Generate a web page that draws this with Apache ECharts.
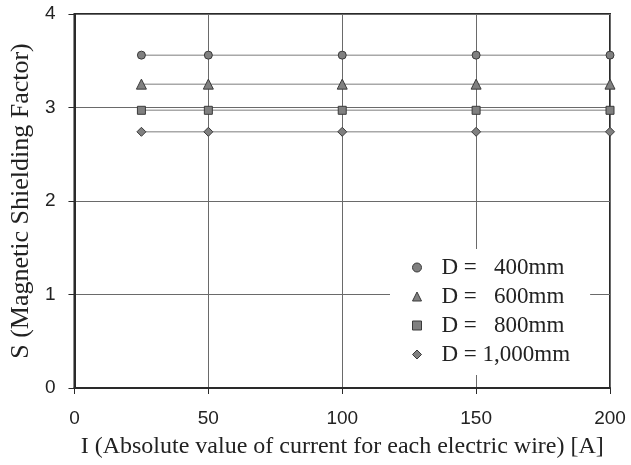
<!DOCTYPE html>
<html><head><meta charset="utf-8">
<script src="https://cdn.jsdelivr.net/npm/echarts@6/dist/echarts.min.js"></script>
<style>html,body{margin:0;padding:0;background:#fff}#c{width:631px;height:465px}</style>
</head><body><div id="c"></div>
<script>
const currents = [25, 50, 100, 150, 200];
const seriesNames = ['D =   400mm', 'D =   600mm', 'D =   800mm', 'D = 1,000mm'];
const s400 = [3.56, 3.56, 3.56, 3.56, 3.56];
const s600 = [3.25, 3.25, 3.25, 3.25, 3.25];
const s800 = [2.97, 2.97, 2.97, 2.97, 2.97];
const s1000 = [2.74, 2.74, 2.74, 2.74, 2.74];
const symbols = ['circle', 'triangle', 'rect', 'diamond'];
const symbolSizes = [8, 10, 8, 9];
const allValues = [s400, s600, s800, s1000];

const chart = echarts.init(document.getElementById('c'));
const series = allValues.map((vals, i) => ({
  name: seriesNames[i],
  type: 'line',
  data: currents.map((x, j) => [x, vals[j]]),
  symbol: symbols[i],
  symbolSize: symbolSizes[i],
  showAllSymbol: true,
  lineStyle: { color: '#a8a8a8', width: 1.5 },
  itemStyle: { color: '#808080', borderColor: '#3a3a3a', borderWidth: 1 },
  emphasis: { disabled: true },
  z: 3
}));

chart.setOption({
  animation: false,
  backgroundColor: '#fff',
  grid: { left: 73, right: 21, top: 14, bottom: 77, show: true, borderColor: '#2a2a2a', borderWidth: 2, backgroundColor: 'transparent' },
  legend: {
    left: 390, top: 249,
    orient: 'vertical',
    backgroundColor: '#ffffff',
    padding: [7, 20, 9, 22],
    itemWidth: 9, itemHeight: 9, itemGap: 6,
    data: seriesNames.map((n, i) => ({ name: n, icon: symbols[i] })),
    itemStyle: { color: '#808080', borderColor: '#3a3a3a', borderWidth: 1 },
    textStyle: { fontFamily: 'Liberation Serif', fontSize: 23, color: '#222', padding: [0, 0, 0, 15] },
    selectedMode: false
  },
  xAxis: {
    type: 'value', min: 0, max: 200, interval: 50,
    name: 'I (Absolute value of current for each electric wire) [A]',
    nameLocation: 'middle', nameGap: 47,
    nameTextStyle: { fontFamily: 'Liberation Serif', fontSize: 24, color: '#222' },
    axisLine: { show: true, lineStyle: { color: '#2a2a2a', width: 2 } },
    axisTick: { show: true, length: 6, lineStyle: { color: '#2a2a2a', width: 1 } },
    axisLabel: { fontFamily: 'Liberation Sans', fontSize: 19, color: '#222', margin: 21 },
    splitLine: { show: true, lineStyle: { color: '#6a6a6a', width: 1 } }
  },
  yAxis: {
    type: 'value', min: 0, max: 4, interval: 1,
    name: 'S (Magnetic Shielding Factor)',
    nameLocation: 'middle', nameGap: 39,
    nameTextStyle: { fontFamily: 'Liberation Serif', fontSize: 26, color: '#222' },
    axisLine: { show: true, lineStyle: { color: '#2a2a2a', width: 2 } },
    axisTick: { show: true, length: 6, lineStyle: { color: '#2a2a2a', width: 1 } },
    axisLabel: { fontFamily: 'Liberation Sans', fontSize: 19, color: '#222', margin: 19 },
    splitLine: { show: true, lineStyle: { color: '#6a6a6a', width: 1 } }
  },
  series: series
});
</script></body></html>
